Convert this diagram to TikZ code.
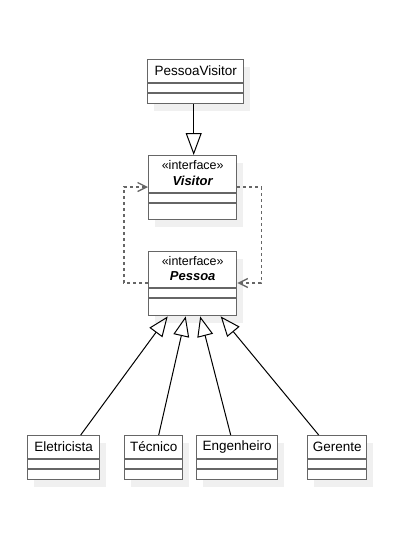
\documentclass[tikz,border=0pt]{standalone}
\usepackage{fontspec}
\setmainfont{Liberation Sans}
\usetikzlibrary{arrows.meta,shadows,calc}
\definecolor{bord}{HTML}{666666}
\definecolor{shad}{HTML}{F0F0F0}
\tikzset{
  cls/.style={draw=bord, line width=1.4pt, fill=white, anchor=north west, inner sep=0pt,
    drop shadow={shadow xshift=6pt, shadow yshift=-7pt, fill=shad, opacity=1}},
  sep/.style={draw=bord, line width=1.4pt},
  cname/.style={font=\fontsize{13.5}{15}\selectfont, inner sep=0pt},
  stereo/.style={font=\fontsize{12.5}{14}\selectfont, inner sep=0pt},
  iname/.style={font=\fontsize{13}{15}\selectfont\bfseries\itshape, inner sep=0pt},
  inh/.style={draw=black, line width=1pt, -{Triangle[open, length=20pt, width=16pt]}},
  dep/.style={draw=bord, line width=1.3pt, dash pattern=on 3pt off 3pt, -{Straight Barb[length=9pt, width=9pt]}}
}
\begin{document}
\begin{tikzpicture}[x=1pt,y=-1pt]
\useasboundingbox (0,0) rectangle (409,541);
% PessoaVisitor
\node[cls, minimum width=96pt, minimum height=44pt] (pv) at (147,59) {};
\node[cname] (pvt) at ([yshift=-12pt]pv.north) {PessoaVisitor};
\draw[sep] ([yshift=-24pt]pv.north west) -- ([yshift=-24pt]pv.north east);
\draw[sep] ([yshift=-34pt]pv.north west) -- ([yshift=-34pt]pv.north east);
% Visitor
\node[cls, minimum width=88pt, minimum height=64pt] (vi) at (148,155) {};
\node[stereo] (vis) at ([yshift=-10pt]vi.north) {«interface»};
\node[iname] (vin) at ([yshift=-26pt]vi.north) {Visitor};
\draw[sep] ([yshift=-38pt]vi.north west) -- ([yshift=-38pt]vi.north east);
\draw[sep] ([yshift=-48pt]vi.north west) -- ([yshift=-48pt]vi.north east);
% Pessoa
\node[cls, minimum width=88pt, minimum height=64pt] (pe) at (148,251) {};
\node[stereo] (pes) at ([yshift=-10.5pt]pe.north) {«interface»};
\node[iname] (pen) at ([yshift=-25.5pt]pe.north) {Pessoa};
\draw[sep] ([yshift=-37pt]pe.north west) -- ([yshift=-37pt]pe.north east);
\draw[sep] ([yshift=-47pt]pe.north west) -- ([yshift=-47pt]pe.north east);
% subclasses
\node[cls, minimum width=72pt, minimum height=44pt] (el) at (27,435) {};
\node[cname] (elt) at ([yshift=-12pt]el.north) {Eletricista};
\node[cls, minimum width=58pt, minimum height=44pt] (te) at (124,435) {};
\node[cname] (tet) at ([yshift=-12pt]te.north) {Técnico};
\node[cls, minimum width=81pt, minimum height=44pt] (en) at (196,435) {};
\node[cname] (ent) at ([yshift=-12pt]en.north) {Engenheiro};
\node[cls, minimum width=59pt, minimum height=44pt] (ge) at (307,435) {};
\node[cname] (get) at ([yshift=-12pt]ge.north) {Gerente};
\foreach \n in {el,te,en,ge}{
  \draw[sep] ([yshift=-24pt]\n.north west) -- ([yshift=-24pt]\n.north east);
  \draw[sep] ([yshift=-34pt]\n.north west) -- ([yshift=-34pt]\n.north east);
}
% connectors
\draw[inh, -{Triangle[open, length=22pt, width=16pt]}] ([xshift=1pt]vi.north |- pv.south) -- ([xshift=1pt]vi.north);
\draw[inh] ([xshift=17pt]el.north) -- ([xshift=-25pt]pe.south);
\draw[inh] ([xshift=5pt]te.north) -- ([xshift=-7pt]pe.south);
\draw[inh] ([xshift=-6.5pt]en.north) -- ([xshift=7.5pt]pe.south);
\draw[inh] ([xshift=-18.5pt]ge.north) -- ([xshift=28pt]pe.south);
\draw[dep] ([yshift=-32pt]vi.north east) -- ++(24,0) |- ([yshift=-32pt]pe.north east);
\draw[dep] ([yshift=-32pt]pe.north west) -- ++(-24,0) |- ([yshift=-32pt]vi.north west);
\end{tikzpicture}
\end{document}
